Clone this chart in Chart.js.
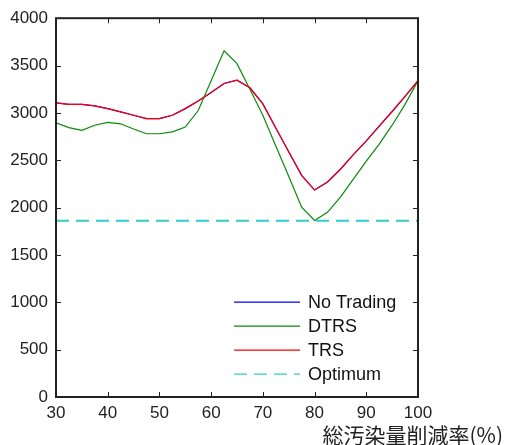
<!DOCTYPE html>
<html>
<head>
<meta charset="utf-8">
<script src="https://cdn.jsdelivr.net/npm/chart.js@4.4.1/dist/chart.umd.min.js"></script>
<style>
  body { margin: 0; background: #fff; }
  #wrap { width: 505px; height: 445px; }
</style>
</head>
<body>
<div id="wrap"><canvas id="myChart" width="505" height="445"></canvas></div>
<script>
// reduction rate (%) on the x axis
const rates = [30, 32.5, 35, 37.5, 40, 42.5, 45, 47.5, 50, 52.5, 55, 57.5, 60, 62.5, 65,
               67.5, 70, 72.5, 75, 77.5, 80, 82.5, 85, 87.5, 90, 92.5, 95, 97.5, 100];

const noTrading = [3105, 3090, 3090, 3075, 3045, 3010, 2975, 2940, 2940, 2975, 3045, 3125, 3215, 3310, 3345,
                   3265, 3095, 2840, 2590, 2340, 2185, 2270, 2405, 2560, 2705, 2860, 3015, 3175, 3340];
const dtrs = [2895, 2845, 2815, 2870, 2900, 2885, 2830, 2780, 2780, 2800, 2850, 3025, 3340, 3655, 3520,
              3250, 2975, 2650, 2330, 2005, 1865, 1950, 2110, 2300, 2490, 2670, 2870, 3090, 3340];
const trs = [3105, 3090, 3090, 3075, 3045, 3010, 2975, 2940, 2940, 2975, 3045, 3125, 3215, 3310, 3345,
             3265, 3095, 2840, 2590, 2340, 2185, 2270, 2405, 2560, 2705, 2860, 3015, 3175, 3340];
const optimum = rates.map(() => 1860);

const xTitle = "総汚染量削減率(%)";
const tickFont = { family: "'Liberation Sans', Arial, sans-serif", size: 17 };

function pts(arr){
    return rates.map((r, i) => ({ x: r, y: arr[i] }));
}

// frame, inward ticks, legend inside the plot, axis title
const decor = {
    id: 'decor',
    afterDraw(chart){
        const ctx = chart.ctx;
        const a = chart.chartArea;
        const xs = chart.scales.x, ys = chart.scales.y;
        ctx.save();
        ctx.strokeStyle = '#222';
        ctx.lineWidth = 1;
        ctx.beginPath();
        xs.ticks.forEach(t => {
            const px = Math.round(xs.getPixelForValue(t.value)) + 0.5;
            ctx.moveTo(px, a.bottom); ctx.lineTo(px, a.bottom - 5);
            ctx.moveTo(px, a.top); ctx.lineTo(px, a.top + 5);
        });
        ys.ticks.forEach(t => {
            const py = Math.round(ys.getPixelForValue(t.value)) + 0.5;
            ctx.moveTo(a.left, py); ctx.lineTo(a.left + 5, py);
            ctx.moveTo(a.right, py); ctx.lineTo(a.right - 5, py);
        });
        ctx.stroke();
        ctx.lineWidth = 2;
        ctx.strokeRect(a.left, a.top, a.right - a.left, a.bottom - a.top);

        // legend
        ctx.font = "18px 'Liberation Sans', Arial, sans-serif";
        ctx.textBaseline = 'middle';
        ctx.fillStyle = '#111';
        chart.data.datasets.forEach((ds, i) => {
            const y = a.top + 284 + i * 24;
            ctx.strokeStyle = ds.borderColor;
            ctx.lineWidth = 1.2;
            ctx.setLineDash(ds.borderDash || []);
            ctx.beginPath();
            ctx.moveTo(234, y); ctx.lineTo(300, y);
            ctx.stroke();
            ctx.setLineDash([]);
            ctx.fillText(ds.label, 308, y + 1);
        });

        ctx.font = "21px 'Noto Sans CJK JP', sans-serif";
        ctx.textAlign = 'right';
        ctx.textBaseline = 'middle';
        ctx.fillStyle = '#222';
        ctx.fillText(xTitle, 503, 435);
        ctx.restore();
    }
};

const ctx = document.getElementById('myChart').getContext('2d');
const myChart = new Chart(ctx, {
    type: 'line',
    data: {
        datasets: [
            { label: 'No Trading', data: pts(noTrading), borderColor: '#0000ff', borderWidth: 1.2, order: 4 },
            { label: 'DTRS', data: pts(dtrs), borderColor: '#0a8a0a', borderWidth: 1.2, order: 3 },
            { label: 'TRS', data: pts(trs), borderColor: '#ff0000', borderWidth: 1.2, order: 1 },
            { label: 'Optimum', data: pts(optimum), borderColor: '#33cccc', borderWidth: 2, borderDash: [13, 7], order: 2 }
        ]
    },
    options: {
        responsive: false,
        animation: false,
        events: [],
        elements: { point: { radius: 0 }, line: { tension: 0 } },
        layout: { padding: { top: 17, right: 87, left: 0, bottom: 0 } },
        plugins: { legend: { display: false }, tooltip: { enabled: false } },
        scales: {
            x: {
                type: 'linear',
                min: 30, max: 100,
                border: { display: false },
                grid: { display: false, drawTicks: false },
                ticks: { stepSize: 10, padding: 6, color: '#222', font: tickFont, maxRotation: 0 },
                afterFit(scale){ scale.height = 48; }
            },
            y: {
                min: 0, max: 4000,
                border: { display: false },
                grid: { display: false, drawTicks: false },
                ticks: {
                    stepSize: 500, padding: 8, color: '#222', font: tickFont,
                    callback: (v) => String(v)
                },
                afterFit(scale){ scale.width = 56; }
            }
        }
    },
    plugins: [decor]
});
</script>
</body>
</html>
